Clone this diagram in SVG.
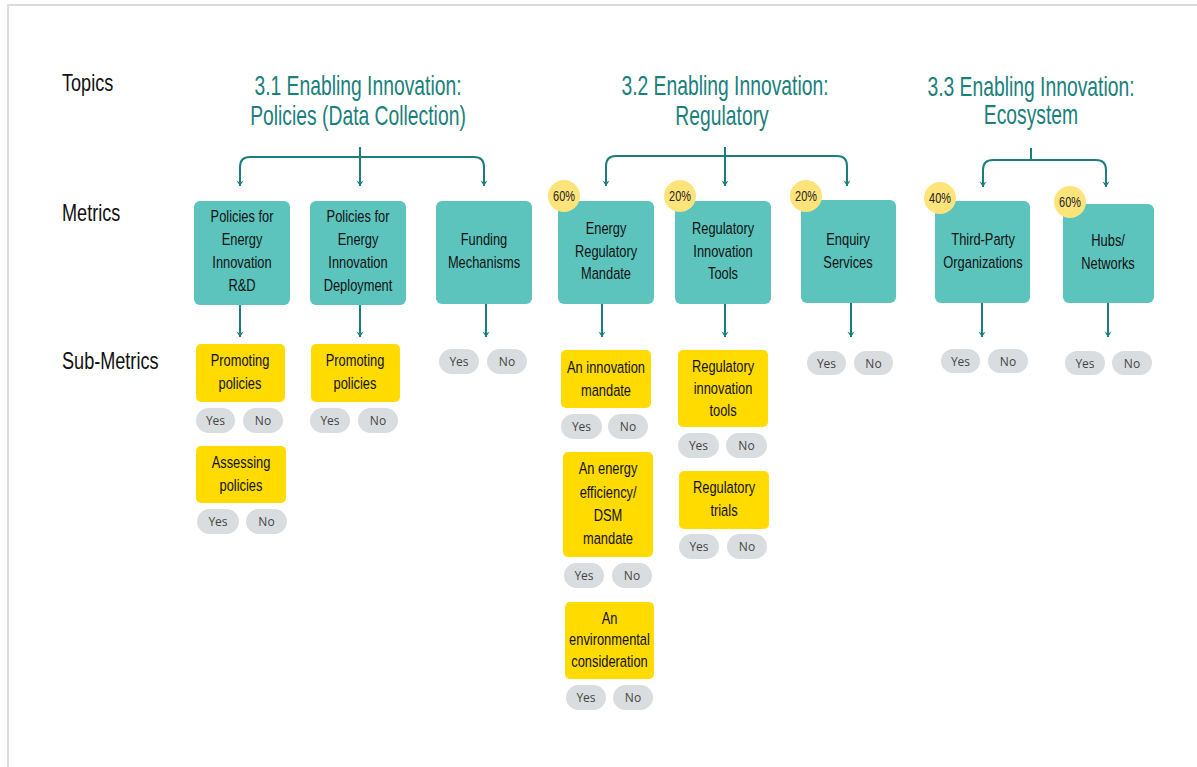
<svg xmlns="http://www.w3.org/2000/svg" width="1197" height="767" viewBox="0 0 1197 767">
<defs>
<style>
.bg{fill:#fff}
.frame{stroke:#dcdcdc;stroke-width:2;fill:none}
.lbl,.head,.mt,.bt,.st{font-family:"Liberation Sans",Arial,sans-serif;transform-box:fill-box;transform-origin:center}
.lbl{font-size:23.5px;fill:#111;transform:scaleX(0.77);transform-origin:left center}
.head{font-size:27px;fill:#1a807b;text-anchor:middle;transform:scaleX(0.715)}
.metric rect{fill:#5cc4bd}
.mt{font-size:16.5px;fill:#111;text-anchor:middle;transform:scaleX(0.78)}
.badge circle{fill:#fde47a}
.bt{font-size:14px;fill:#222;text-anchor:middle;transform:scaleX(0.78)}
.sub rect.s{fill:#ffdb00}
.st{font-size:16.5px;fill:#111;text-anchor:middle;transform:scaleX(0.78)}
.pill{fill:#dadddf}
.pt{font-family:"Open Sans","Noto Sans","Liberation Sans",sans-serif;font-size:12px;fill:#444;text-anchor:middle}
.conn{stroke:#1a7f7c;stroke-width:2;fill:none}
</style>
<marker id="ad" viewBox="0 0 10 10" refX="5" refY="9" markerWidth="9" markerHeight="9" markerUnits="userSpaceOnUse" orient="0">
<path d="M1,3 L5,9 L9,3 L5,5 Z" fill="#1a7f7c"/>
</marker>
</defs>
<rect class="bg" x="0" y="0" width="1197" height="767"/>
<path class="frame" d="M8,767 V5 H1197"/>

<g id="labels">
<text class="lbl" x="62" y="91">Topics</text>
<text class="lbl" x="62" y="221">Metrics</text>
<text class="lbl" x="62" y="369">Sub-Metrics</text>
</g>

<g id="topic-3-1"><text class="head" x="358" y="95">3.1 Enabling Innovation:</text><text class="head" x="358" y="125">Policies (Data Collection)</text></g>
<g id="topic-3-2"><text class="head" x="725" y="95">3.2 Enabling Innovation:</text><text class="head" x="722" y="125">Regulatory</text></g>
<g id="topic-3-3"><text class="head" x="1031" y="96">3.3 Enabling Innovation:</text><text class="head" x="1031" y="124">Ecosystem</text></g>

<g id="connectors">
<path class="conn" d="M360,147 V186" marker-end="url(#ad)"/>
<path class="conn" d="M240,186 V167 Q240,157 250,157 H474 Q484,157 484,167 V186" marker-start="url(#ad)" marker-end="url(#ad)"/>
<path class="conn" d="M725,147 V186" marker-end="url(#ad)"/>
<path class="conn" d="M606,186 V166 Q606,156 616,156 H837 Q847,156 847,166 V186" marker-start="url(#ad)" marker-end="url(#ad)"/>
<path class="conn" d="M1031,148 V160"/>
<path class="conn" d="M983,187 V170 Q983,160 993,160 H1096 Q1106,160 1106,170 V187" marker-start="url(#ad)" marker-end="url(#ad)"/>
<path class="conn" d="M240,305 V337" marker-end="url(#ad)"/>
<path class="conn" d="M360,305 V337" marker-end="url(#ad)"/>
<path class="conn" d="M486,304 V337" marker-end="url(#ad)"/>
<path class="conn" d="M602,304 V337" marker-end="url(#ad)"/>
<path class="conn" d="M725,304 V337" marker-end="url(#ad)"/>
<path class="conn" d="M851,303 V337" marker-end="url(#ad)"/>
<path class="conn" d="M982,303 V337" marker-end="url(#ad)"/>
<path class="conn" d="M1108,303 V337" marker-end="url(#ad)"/>
</g>

<g id="m-rd" class="metric"><rect x="194" y="201" width="96" height="104" rx="6"/><text class="mt" x="242" y="222">Policies for</text><text class="mt" x="242" y="245">Energy</text><text class="mt" x="242" y="268">Innovation</text><text class="mt" x="242" y="291">R&amp;D</text></g>
<g id="m-deploy" class="metric"><rect x="310" y="201" width="96" height="104" rx="6"/><text class="mt" x="358" y="222">Policies for</text><text class="mt" x="358" y="245">Energy</text><text class="mt" x="358" y="268">Innovation</text><text class="mt" x="358" y="291">Deployment</text></g>
<g id="m-funding" class="metric"><rect x="436" y="201" width="96" height="103" rx="6"/><text class="mt" x="484" y="245">Funding</text><text class="mt" x="484" y="268">Mechanisms</text></g>
<g id="m-erm" class="metric"><rect x="558" y="201" width="96" height="103" rx="6"/><text class="mt" x="606" y="234">Energy</text><text class="mt" x="606" y="257">Regulatory</text><text class="mt" x="606" y="279">Mandate</text></g>
<g id="m-rit" class="metric"><rect x="675" y="201" width="96" height="103" rx="6"/><text class="mt" x="723" y="234">Regulatory</text><text class="mt" x="723" y="257">Innovation</text><text class="mt" x="723" y="279">Tools</text></g>
<g id="m-enquiry" class="metric"><rect x="801" y="200" width="95" height="103" rx="6"/><text class="mt" x="848" y="245">Enquiry</text><text class="mt" x="848" y="268">Services</text></g>
<g id="m-third" class="metric"><rect x="935" y="201" width="95" height="102" rx="6"/><text class="mt" x="983" y="245">Third-Party</text><text class="mt" x="983" y="268">Organizations</text></g>
<g id="m-hubs" class="metric"><rect x="1063" y="204" width="91" height="99" rx="6"/><text class="mt" x="1108" y="246">Hubs/</text><text class="mt" x="1108" y="269">Networks</text></g>

<g id="badges" class="badge">
<g id="b1"><circle cx="564" cy="196" r="16"/><text class="bt" x="564" y="201">60%</text></g>
<g id="b2"><circle cx="680" cy="196" r="16"/><text class="bt" x="680" y="201">20%</text></g>
<g id="b3"><circle cx="806" cy="196" r="16"/><text class="bt" x="806" y="201">20%</text></g>
<g id="b4"><circle cx="940" cy="198" r="16"/><text class="bt" x="940" y="203">40%</text></g>
<g id="b5"><circle cx="1070" cy="202" r="16"/><text class="bt" x="1070" y="207">60%</text></g>
</g>

<g id="s-promo1" class="sub"><rect class="s" x="196" y="344" width="89" height="58" rx="5"/><text class="st" x="240" y="366">Promoting</text><text class="st" x="240" y="389">policies</text>
<rect class="pill" x="196" y="408" width="39" height="25" rx="12.5"/><text class="pt" x="215.5" y="425">Yes</text><rect class="pill" x="243" y="408" width="40" height="25" rx="12.5"/><text class="pt" x="263" y="425">No</text></g>
<g id="s-assess" class="sub"><rect class="s" x="196" y="446" width="90" height="57" rx="5"/><text class="st" x="241" y="468">Assessing</text><text class="st" x="241" y="491">policies</text>
<rect class="pill" x="197" y="509" width="42" height="25" rx="12.5"/><text class="pt" x="218" y="526">Yes</text><rect class="pill" x="246" y="509" width="41" height="25" rx="12.5"/><text class="pt" x="266.5" y="526">No</text></g>
<g id="s-promo2" class="sub"><rect class="s" x="311" y="344" width="89" height="58" rx="5"/><text class="st" x="355" y="366">Promoting</text><text class="st" x="355" y="389">policies</text>
<rect class="pill" x="310" y="408" width="40" height="25" rx="12.5"/><text class="pt" x="330" y="425">Yes</text><rect class="pill" x="358" y="408" width="40" height="25" rx="12.5"/><text class="pt" x="378" y="425">No</text></g>
<g id="s-funding" class="sub">
<rect class="pill" x="439" y="349" width="40" height="25" rx="12.5"/><text class="pt" x="459" y="366">Yes</text><rect class="pill" x="487" y="349" width="40" height="25" rx="12.5"/><text class="pt" x="507" y="366">No</text></g>
<g id="s-innov" class="sub"><rect class="s" x="561" y="350" width="90" height="58" rx="5"/><text class="st" x="606" y="373">An innovation</text><text class="st" x="606" y="396">mandate</text>
<rect class="pill" x="561" y="414" width="41" height="25" rx="12.5"/><text class="pt" x="581.5" y="431">Yes</text><rect class="pill" x="608" y="414" width="40" height="25" rx="12.5"/><text class="pt" x="628" y="431">No</text></g>
<g id="s-dsm" class="sub"><rect class="s" x="563" y="452" width="90" height="105" rx="5"/><text class="st" x="608" y="474">An energy</text><text class="st" x="608" y="498">efficiency/</text><text class="st" x="608" y="521">DSM</text><text class="st" x="608" y="544">mandate</text>
<rect class="pill" x="564" y="563" width="40" height="25" rx="12.5"/><text class="pt" x="584" y="580">Yes</text><rect class="pill" x="612" y="563" width="40" height="25" rx="12.5"/><text class="pt" x="632" y="580">No</text></g>
<g id="s-env" class="sub"><rect class="s" x="565" y="602" width="89" height="77" rx="5"/><text class="st" x="609.5" y="624">An</text><text class="st" x="609.5" y="645">environmental</text><text class="st" x="609.5" y="667">consideration</text>
<rect class="pill" x="566" y="685" width="40" height="25" rx="12.5"/><text class="pt" x="586" y="702">Yes</text><rect class="pill" x="613" y="685" width="40" height="25" rx="12.5"/><text class="pt" x="633" y="702">No</text></g>
<g id="s-rit" class="sub"><rect class="s" x="678" y="350" width="90" height="77" rx="5"/><text class="st" x="723" y="372">Regulatory</text><text class="st" x="723" y="394">innovation</text><text class="st" x="723" y="416">tools</text>
<rect class="pill" x="678" y="433" width="41" height="25" rx="12.5"/><text class="pt" x="698.5" y="450">Yes</text><rect class="pill" x="726" y="433" width="41" height="25" rx="12.5"/><text class="pt" x="746.5" y="450">No</text></g>
<g id="s-trials" class="sub"><rect class="s" x="679" y="471" width="90" height="58" rx="5"/><text class="st" x="724" y="493">Regulatory</text><text class="st" x="724" y="516">trials</text>
<rect class="pill" x="679" y="534" width="40" height="25" rx="12.5"/><text class="pt" x="699" y="551">Yes</text><rect class="pill" x="727" y="534" width="40" height="25" rx="12.5"/><text class="pt" x="747" y="551">No</text></g>
<g id="s-enquiry" class="sub">
<rect class="pill" x="807" y="351" width="39" height="24" rx="12"/><text class="pt" x="826.5" y="367.5">Yes</text><rect class="pill" x="854" y="351" width="39" height="24" rx="12"/><text class="pt" x="873.5" y="367.5">No</text></g>
<g id="s-third" class="sub">
<rect class="pill" x="941" y="349" width="39" height="24" rx="12"/><text class="pt" x="960.5" y="365.5">Yes</text><rect class="pill" x="988" y="349" width="40" height="24" rx="12"/><text class="pt" x="1008" y="365.5">No</text></g>
<g id="s-hubs" class="sub">
<rect class="pill" x="1065" y="351" width="40" height="24" rx="12"/><text class="pt" x="1085" y="367.5">Yes</text><rect class="pill" x="1112" y="351" width="40" height="24" rx="12"/><text class="pt" x="1132" y="367.5">No</text></g>
</svg>
